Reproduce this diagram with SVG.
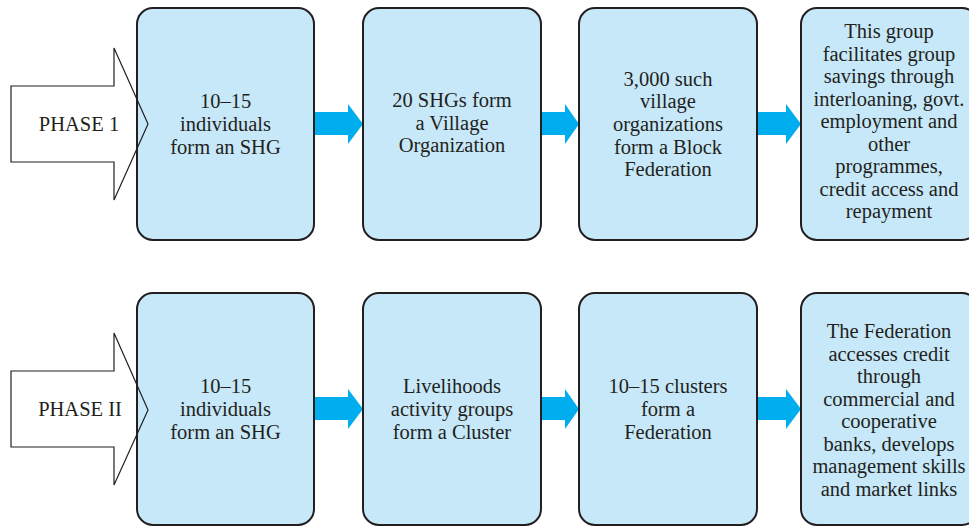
<svg xmlns="http://www.w3.org/2000/svg" width="969" height="526" viewBox="0 0 969 526">
<style>
.box{fill:#c7e8f8;stroke:#231f20;stroke-width:2}
.phase{fill:#fff;stroke:none}
.outline{fill:none;stroke:#231f20;stroke-width:1.2}
.arr{fill:#00aeef}
text{font-family:"Liberation Serif","Times New Roman",serif;font-size:20.5px;fill:#231f20;text-anchor:middle}
</style>
<defs>
<path id="ph1" d="M11,86 H114 V48 L148,124 L114,200 V162 H11 Z"/>
<path id="ph2" d="M11,371 H114 V333 L148,410 L114,485 V447 H11 Z"/>
</defs>
<rect width="969" height="526" fill="#fff"/>
<g id="phase1"><use href="#ph1" class="phase"/><text x="79" y="131">PHASE 1</text></g>
<g id="phase2"><use href="#ph2" class="phase"/><text x="80" y="416">PHASE II</text></g>
<g id="connectors">
<path class="arr" d="M314,112 H348 V104 L363,124 L348,144 V135 H314 Z"/>
<path class="arr" d="M541,112 H565 V104 L579,124 L565,144 V135 H541 Z"/>
<path class="arr" d="M757,112 H786 V104 L801,124 L786,144 V135 H757 Z"/>
<path class="arr" d="M314,397 H348 V389 L363,409 L348,429 V420 H314 Z"/>
<path class="arr" d="M541,397 H565 V389 L579,409 L565,429 V420 H541 Z"/>
<path class="arr" d="M757,397 H786 V389 L801,409 L786,429 V420 H757 Z"/>
</g>
<g id="r1b1"><rect class="box" x="137" y="8" width="177" height="232" rx="16"/><text x="225.5" y="108">10–15</text><text x="225.5" y="131">individuals</text><text x="225.5" y="154">form an SHG</text></g>
<g id="r1b2"><rect class="box" x="363" y="8" width="178" height="232" rx="16"/><text x="452" y="107">20 SHGs form</text><text x="452" y="130">a Village</text><text x="452" y="152">Organization</text></g>
<g id="r1b3"><rect class="box" x="579" y="8" width="178" height="232" rx="16"/><text x="668" y="86">3,000 such</text><text x="668" y="108">village</text><text x="668" y="131">organizations</text><text x="668" y="154">form a Block</text><text x="668" y="176">Federation</text></g>
<g id="r1b4"><rect class="box" x="801" y="8" width="177" height="232" rx="16"/><text x="889" y="38">This group</text><text x="889" y="60.5">facilitates group</text><text x="889" y="83">savings through</text><text x="889" y="105.5">interloaning, govt.</text><text x="889" y="128">employment and</text><text x="889" y="150.5">other</text><text x="889" y="173">programmes,</text><text x="889" y="195.5">credit access and</text><text x="889" y="218">repayment</text></g>
<g id="r2b1"><rect class="box" x="137" y="293" width="177" height="232" rx="16"/><text x="225.5" y="393">10–15</text><text x="225.5" y="416">individuals</text><text x="225.5" y="439">form an SHG</text></g>
<g id="r2b2"><rect class="box" x="363" y="293" width="178" height="232" rx="16"/><text x="452" y="393">Livelihoods</text><text x="452" y="416">activity groups</text><text x="452" y="439">form a Cluster</text></g>
<g id="r2b3"><rect class="box" x="579" y="293" width="178" height="232" rx="16"/><text x="668" y="393">10–15 clusters</text><text x="668" y="416">form a</text><text x="668" y="439">Federation</text></g>
<g id="r2b4"><rect class="box" x="801" y="293" width="177" height="232" rx="16"/><text x="889" y="338">The Federation</text><text x="889" y="360.5">accesses credit</text><text x="889" y="383">through</text><text x="889" y="405.5">commercial and</text><text x="889" y="428">cooperative</text><text x="889" y="450.5">banks, develops</text><text x="889" y="473">management skills</text><text x="889" y="495.5">and market links</text></g>
<g id="phase-outlines"><use href="#ph1" class="outline"/><use href="#ph2" class="outline"/></g>
</svg>
